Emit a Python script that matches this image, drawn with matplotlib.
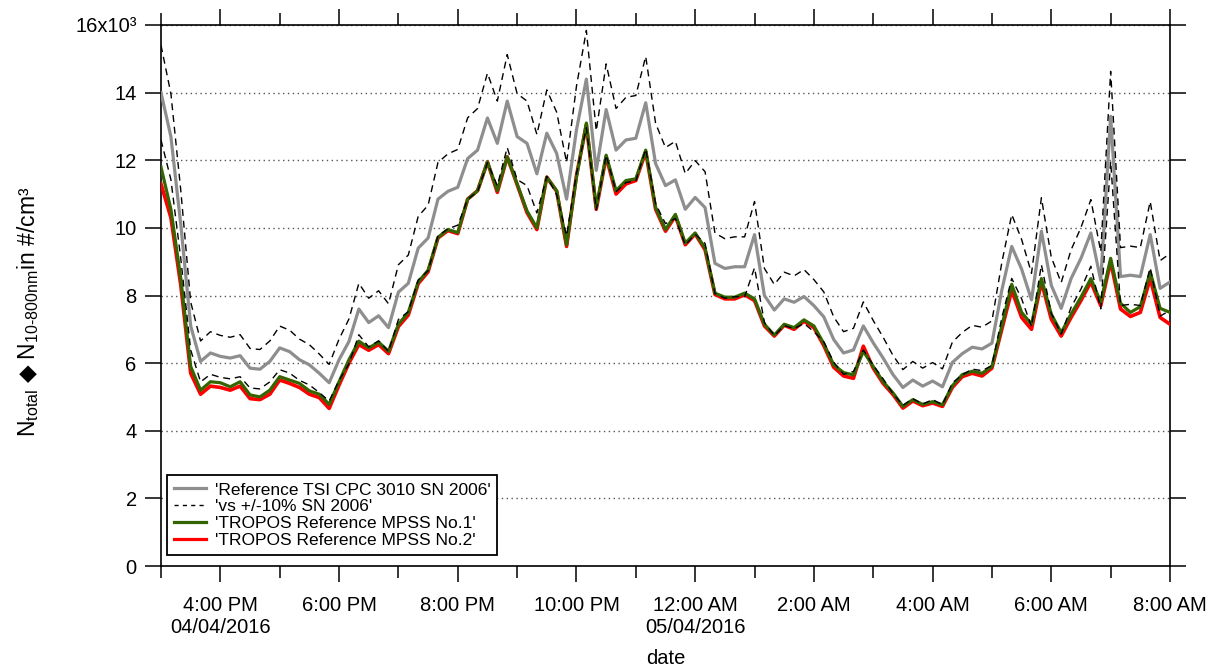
import matplotlib
matplotlib.use("Agg")
import matplotlib.pyplot as plt
from matplotlib.lines import Line2D
import numpy as np
import pandas as pd

plt.rcParams["font.family"] = ["Liberation Sans", "DejaVu Sans"]
plt.rcParams["mathtext.fontset"] = "custom"
plt.rcParams["mathtext.rm"] = "Liberation Sans"
plt.rcParams["mathtext.sf"] = "DejaVu Sans"

# ── data: 10-minute averages, 04/04/2016 15:00 -> 05/04/2016 08:00 ────────────
start = "2016-04-04 15:00"

ref_cpc = [
    14.0, 12.7, 10.1, 7.1, 6.05, 6.3, 6.2, 6.15, 6.22, 5.85,
    5.82, 6.05, 6.45, 6.34, 6.1, 5.95, 5.7, 5.42, 6.1, 6.64,
    7.6, 7.2, 7.4, 7.05, 8.1, 8.36, 9.4, 9.7, 10.85, 11.08,
    11.2, 12.05, 12.3, 13.25, 12.5, 13.75, 12.7, 12.5, 11.6, 12.8,
    12.2, 10.85, 12.9, 14.4, 11.7, 13.5, 12.3, 12.6, 12.65, 13.7,
    11.9, 11.25, 11.42, 10.55, 10.9, 10.6, 8.95, 8.8, 8.85, 8.85,
    9.8, 8.0, 7.57, 7.9, 7.8, 7.97, 7.7, 7.37, 6.7, 6.3,
    6.39, 7.1, 6.6, 6.15, 5.66, 5.28, 5.5, 5.32, 5.47, 5.3,
    6.02, 6.28, 6.47, 6.42, 6.59, 8.16, 9.45, 8.78, 7.87, 9.9,
    8.3, 7.62, 8.5, 9.1, 9.85, 8.45, 13.3, 8.56, 8.6, 8.56,
    9.8, 8.21, 8.4,
]

mpss_1 = [
    11.8, 10.55, 8.5, 5.9, 5.2, 5.45, 5.42, 5.3, 5.45, 5.06,
    5.0, 5.2, 5.6, 5.5, 5.4, 5.18, 5.08, 4.78, 5.45, 6.1,
    6.65, 6.45, 6.62, 6.35, 7.15, 7.5, 8.4, 8.75, 9.72, 9.95,
    9.86, 10.85, 11.1, 11.95, 11.1, 12.1, 11.3, 10.5, 10.0, 11.5,
    11.1, 9.5, 11.5, 13.1, 10.6, 12.15, 11.1, 11.4, 11.45, 12.3,
    10.6, 9.95, 10.4, 9.55, 9.85, 9.4, 8.07, 7.95, 7.95, 8.07,
    7.9, 7.15, 6.83, 7.15, 7.05, 7.28, 7.1, 6.58, 5.95, 5.72,
    5.65, 6.35, 5.9, 5.45, 5.12, 4.72, 4.92, 4.78, 4.86, 4.77,
    5.33, 5.66, 5.76, 5.7, 5.9, 7.1, 8.33, 7.5, 7.15, 8.5,
    7.45, 6.9, 7.45, 7.95, 8.5, 7.8, 9.1, 7.77, 7.5, 7.67,
    8.7, 7.62, 7.5,
]

mpss_2 = [
    11.3, 10.3, 8.3, 5.7, 5.08, 5.32, 5.28, 5.2, 5.32, 4.95,
    4.92, 5.08, 5.5, 5.4, 5.28, 5.08, 4.98, 4.66, 5.35, 6.0,
    6.55, 6.38, 6.55, 6.28, 7.08, 7.42, 8.35, 8.7, 9.7, 9.92,
    9.83, 10.85, 11.1, 11.95, 11.05, 12.1, 11.28, 10.45, 9.95, 11.5,
    11.08, 9.45, 11.55, 13.05, 10.55, 12.1, 11.0, 11.3, 11.4, 12.25,
    10.55, 9.9, 10.35, 9.5, 9.82, 9.35, 8.03, 7.9, 7.9, 8.02,
    7.85, 7.1, 6.8, 7.12, 7.0, 7.24, 7.05, 6.52, 5.88, 5.62,
    5.55, 6.5, 5.85, 5.4, 5.07, 4.67, 4.88, 4.74, 4.82, 4.72,
    5.28, 5.6, 5.7, 5.62, 5.85, 7.0, 8.15, 7.35, 7.0, 8.4,
    7.3, 6.8, 7.35, 7.85, 8.4, 7.7, 9.0, 7.6, 7.38, 7.5,
    8.5, 7.35, 7.15,
]

tick_times = ["2016-04-04 16:00", "2016-04-04 18:00", "2016-04-04 20:00",
              "2016-04-04 22:00", "2016-04-05 00:00", "2016-04-05 02:00",
              "2016-04-05 04:00", "2016-04-05 06:00", "2016-04-05 08:00"]
tick_labels = ["4:00 PM\n04/04/2016", "6:00 PM", "8:00 PM", "10:00 PM",
               "12:00 AM\n05/04/2016", "2:00 AM", "4:00 AM", "6:00 AM", "8:00 AM"]
y_ticks = [0, 2, 4, 6, 8, 10, 12, 14, 16]
y_labels = ["0", "2", "4", "6", "8", "10", "12", "14", "16x10³"]

# ── plot ──────────────────────────────────────────────────────────────────────
times = pd.date_range(start, periods=len(ref_cpc), freq="10min")
ref = np.array(ref_cpc)

fig = plt.figure(figsize=(12.21, 6.70), dpi=100)
ax = fig.add_axes([161 / 1221, 104 / 670, 1009 / 1221, 541 / 670])

ax.plot(times, ref, color="#8e8e8e", lw=2.3, zorder=3)
ax.plot(times, ref * 1.1, color="black", lw=1.0, dashes=(5, 3.5), zorder=6)
ax.plot(times, ref * 0.9, color="black", lw=1.0, dashes=(5, 3.5), zorder=6)
ax.plot(times, mpss_2, color="#ff0000", lw=2.6, zorder=4)
ax.plot(times, mpss_1, color="#336600", lw=2.3, zorder=5)

handles = [Line2D([], [], color="#8e8e8e", lw=2.3),
           Line2D([], [], color="black", lw=1.0, dashes=(3, 3)),
           Line2D([], [], color="#336600", lw=2.3),
           Line2D([], [], color="#ff0000", lw=2.3)]
labels = ["'Reference TSI CPC 3010 SN 2006'", "'vs +/-10% SN 2006'",
          "'TROPOS Reference MPSS No.1'", "'TROPOS Reference MPSS No.2'"]
leg = ax.legend(handles, labels, loc="lower left", bbox_to_anchor=(0.006, 0.02),
                borderaxespad=0, fontsize=12.5, handlelength=1.85, handletextpad=0.5,
                labelspacing=0.1, borderpad=0.4, fancybox=False, framealpha=1)
leg.get_frame().set_edgecolor("black")
leg.get_frame().set_linewidth(1.3)
leg.set_zorder(10)

ax.set_xlim(pd.Timestamp("2016-04-04 15:00"), pd.Timestamp("2016-04-05 08:00"))
ax.set_ylim(0, 16)

ax.set_xticks([pd.Timestamp(t) for t in tick_times])
ax.set_xticklabels(tick_labels)
ax.set_xticks(pd.date_range("2016-04-04 15:00", "2016-04-05 08:00", freq="1h"), minor=True)
ax.set_yticks(y_ticks)
ax.set_yticklabels(y_labels)

ax.tick_params(axis="both", which="major", direction="out", length=11.5, width=1.1,
               labelsize=14.5, right=True, top=True)
ax.tick_params(axis="x", which="major", pad=10)
ax.tick_params(axis="y", which="major", pad=6)
ax.tick_params(axis="x", which="minor", direction="out", length=8.5, width=1.1, top=True)

ax.grid(axis="y", which="major", linestyle=(0, (1, 2.5)), color="#555555", lw=1.0)
for s in ax.spines.values():
    s.set_linewidth(1.2)

ax.set_xlabel("date", fontsize=14.5, labelpad=9)
fig.text(28 / 1221, 1 - 312 / 670,
         r"N$_{\mathrm{total}}$ $\mathsf{◆}$ N$_{\mathrm{10\text{-}800nm}}$in #/cm³",
         rotation=90, ha="center", va="center", fontsize=16.5)

fig.savefig("out.png", dpi=100)
